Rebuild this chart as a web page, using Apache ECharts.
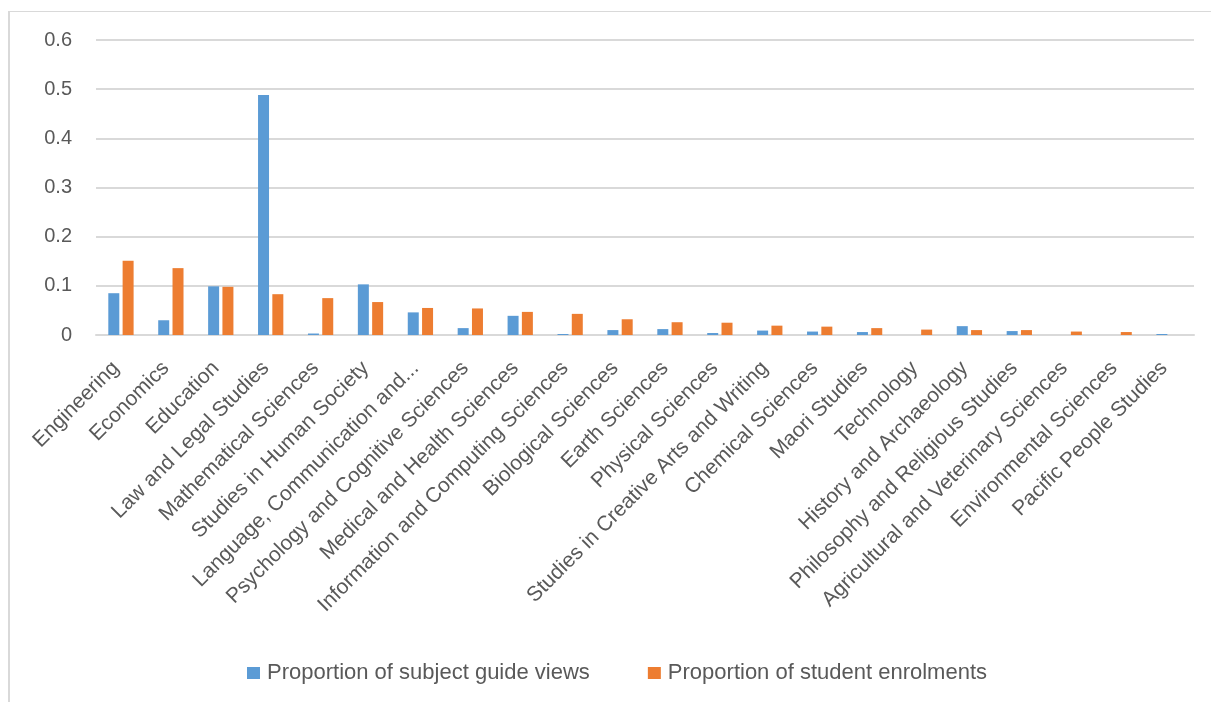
<!DOCTYPE html>
<html>
<head>
<meta charset="utf-8">
<script src="https://cdn.jsdelivr.net/npm/echarts@6/dist/echarts.min.js"></script>
<style>
html,body{margin:0;padding:0;background:#fff;overflow:hidden;}
#frame{position:absolute;left:8px;top:11px;width:1400px;height:900px;border-left:2px solid #D9D9D9;border-top:1px solid #D9D9D9;box-sizing:border-box;}
#chart{position:absolute;left:0;top:0;width:1211px;height:702px;}
</style>
</head>
<body>
<div id="frame"></div>
<div id="chart"></div>
<script>
var categories = ["Engineering","Economics","Education","Law and Legal Studies","Mathematical Sciences","Studies in Human Society","Language, Communication and...","Psychology and Cognitive Sciences","Medical and Health Sciences","Information and Computing Sciences","Biological Sciences","Earth Sciences","Physical Sciences","Studies in Creative Arts and Writing","Chemical Sciences","Maori Studies","Technology","History and Archaeology","Philosophy and Religious Studies","Agricultural and Veterinary Sciences","Environmental Sciences","Pacific People Studies"];
var guideViews = [0.085,0.030,0.099,0.488,0.003,0.103,0.046,0.014,0.039,0.002,0.010,0.012,0.004,0.009,0.007,0.006,0,0.018,0.008,0,0,0.002];
var enrolments = [0.151,0.136,0.098,0.083,0.075,0.067,0.055,0.054,0.047,0.043,0.032,0.026,0.025,0.019,0.017,0.014,0.011,0.010,0.010,0.007,0.006,0];
var seriesNames = ["Proportion of subject guide views","Proportion of student enrolments"];

var chart = echarts.init(document.getElementById('chart'), null, {renderer:'canvas'});
var font = "'Liberation Sans', Arial, sans-serif";
chart.setOption({
  animation:false,
  backgroundColor:'transparent',
  textStyle:{fontFamily:font},
  grid:{left:96,right:17,top:40,bottom:367,containLabel:false},
  legend:{
    top:657,left:242,itemWidth:13,itemHeight:12,itemGap:58,
    icon:'rect',
    textStyle:{fontSize:22,color:'#595959',fontFamily:font,padding:[0,0,0,2]},
    data:seriesNames
  },
  xAxis:{
    type:'category',data:categories,
    axisLine:{lineStyle:{color:'#D9D9D9',width:2}},
    axisTick:{show:false},
    axisLabel:{rotate:45,interval:0,fontSize:21,color:'#595959',margin:25,padding:[0,7,0,0],fontFamily:font}
  },
  yAxis:{
    type:'value',min:0,max:0.6,interval:0.1,
    axisLine:{show:false},axisTick:{show:false},
    splitLine:{lineStyle:{color:'#D9D9D9',width:2}},
    axisLabel:{fontSize:20,color:'#595959',margin:24,fontFamily:font}
  },
  series:[
    {name:seriesNames[0],type:'bar',data:guideViews,barWidth:11,barGap:'30%',itemStyle:{color:'#5B9BD5'}},
    {name:seriesNames[1],type:'bar',data:enrolments,barWidth:11,itemStyle:{color:'#ED7D31'}}
  ]
});
</script>
</body>
</html>
